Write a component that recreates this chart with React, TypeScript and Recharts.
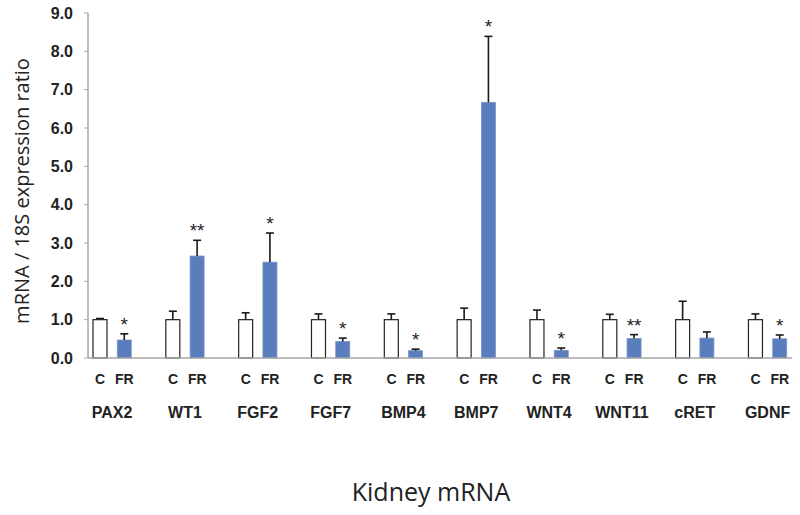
import React from 'react';
import { BarChart, Bar, XAxis, YAxis, Cell, LabelList } from 'recharts';

const genes = ['PAX2', 'WT1', 'FGF2', 'FGF7', 'BMP4', 'BMP7', 'WNT4', 'WNT11', 'cRET', 'GDNF'];
const controlMean = [1.0, 1.0, 1.0, 1.0, 1.0, 1.0, 1.0, 1.0, 1.0, 1.0];
const controlErr = [0.03, 0.22, 0.18, 0.15, 0.15, 0.3, 0.25, 0.14, 0.48, 0.15];
const frMean = [0.47, 2.66, 2.5, 0.43, 0.19, 6.67, 0.2, 0.51, 0.52, 0.5];
const frErr = [0.16, 0.41, 0.76, 0.09, 0.04, 1.72, 0.06, 0.1, 0.16, 0.1];
const frSig = ['*', '**', '*', '*', '*', '*', '*', '**', '', '*'];
const yTicks = [0, 1, 2, 3, 4, 5, 6, 7, 8, 9];

type Row = { key: string; group: string; gene: string; value: number | null; err: number | null; sig: string };

// one category per bar, with an empty slot between genes
const rows: Row[] = [];
genes.forEach((g, i) => {
  rows.push({ key: g + '-C', group: 'C', gene: g, value: controlMean[i], err: controlErr[i], sig: '' });
  rows.push({ key: g + '-FR', group: 'FR', gene: '', value: frMean[i], err: frErr[i], sig: frSig[i] });
  if (i < genes.length - 1) rows.push({ key: g + '-gap', group: '', gene: '', value: null, err: null, sig: '' });
});
const rowByKey: Record<string, Row> = {};
rows.forEach(r => { rowByKey[r.key] = r; });

const ARIAL = '"Liberation Sans", Arial, sans-serif';
const SANS = '"Open Sans", sans-serif';

const GroupTick = (props: any) => {
  const { x, y, payload } = props;
  const row = rowByKey[payload.value];
  if (!row) return null;
  return (
    <g>
      <text x={x} y={y + 26} textAnchor="middle" fontFamily={ARIAL} fontWeight="bold" fontSize={14} fill="#222">
        {row.group}
      </text>
      {row.gene && (
        <text x={x + 12} y={y + 60} textAnchor="middle" fontFamily={ARIAL} fontWeight="bold" fontSize={16} fill="#222">
          {row.gene}
        </text>
      )}
    </g>
  );
};

const Whisker = (props: any) => {
  const { x, y, width, height, payload } = props;
  if (!payload || payload.err == null || !width || isNaN(y)) return null;
  const cx = x + width / 2;
  return (
    <g stroke="#1a1a1a" strokeWidth={1.6}>
      <line x1={cx} y1={y + height} x2={cx} y2={y} />
      <line x1={cx - 4} x2={cx + 4} y1={y} y2={y} />
    </g>
  );
};

const ValueBar = (props: any) => {
  const { x, y, width, height, payload } = props;
  if (!payload || payload.value == null || !width) return null;
  const isC = payload.group === 'C';
  return (
    <rect
      x={x}
      y={y}
      width={width}
      height={height}
      fill={isC ? '#ffffff' : '#5a7dbd'}
      stroke={isC ? '#222' : '#7894c8'}
      strokeWidth={isC ? 1.2 : 0.8}
    />
  );
};

export default function App() {
  return (
    <div style={{ position: 'absolute', left: 0, top: 0, background: '#fff' }}>
      <BarChart width={800} height={515} data={rows} margin={{ top: 13, right: 8, left: 0, bottom: 77 }}>
        <XAxis
          dataKey="key"
          interval={0}
          height={80}
          tickSize={0}
          tickMargin={0}
          tickLine={false}
          axisLine={{ stroke: '#a6a6a6', strokeWidth: 1.5 }}
          tick={<GroupTick />}
          label={{
            content: () => (
              <text x={431} y={501} textAnchor="middle" fontFamily={SANS} fontSize={25} fill="#222">
                Kidney mRNA
              </text>
            ),
          }}
        />
        <XAxis
          xAxisId="top"
          dataKey="key"
          orientation="top"
          height={0}
          tick={false}
          tickLine={false}
          axisLine={{ stroke: '#b8c2da', strokeWidth: 1.5 }}
        />
        <YAxis
          domain={[0, 9]}
          ticks={yTicks}
          interval={0}
          width={88}
          tickFormatter={(v: number) => v.toFixed(1)}
          tickSize={4}
          tickMargin={11}
          tickLine={{ stroke: '#a6a6a6' }}
          axisLine={{ stroke: '#a6a6a6', strokeWidth: 1.5 }}
          tick={{ fill: '#222', fontSize: 16, fontWeight: 'bold', fontFamily: ARIAL }}
          label={{
            content: () => (
              <text
                x={21}
                y={191}
                transform="rotate(-90, 21, 191)"
                textAnchor="middle"
                dominantBaseline="central"
                fontFamily={SANS}
                fontSize={20}
                fill="#222"
              >
                mRNA / 18S expression ratio
              </text>
            ),
          }}
        />
        <YAxis
          yAxisId="frame"
          orientation="right"
          width={0}
          domain={[0, 9]}
          tick={false}
          tickLine={false}
          axisLine={{ stroke: '#b8c2da', strokeWidth: 1.5 }}
        />
        <Bar dataKey="value" stackId="s" barSize={14} shape={<ValueBar />} isAnimationActive={false} />
        <Bar dataKey="err" stackId="s" barSize={14} shape={<Whisker />} isAnimationActive={false}>
          <LabelList dataKey="sig" position="top" offset={3} fontSize={19} fontFamily={ARIAL} fill="#222" />
        </Bar>
      </BarChart>
    </div>
  );
}
